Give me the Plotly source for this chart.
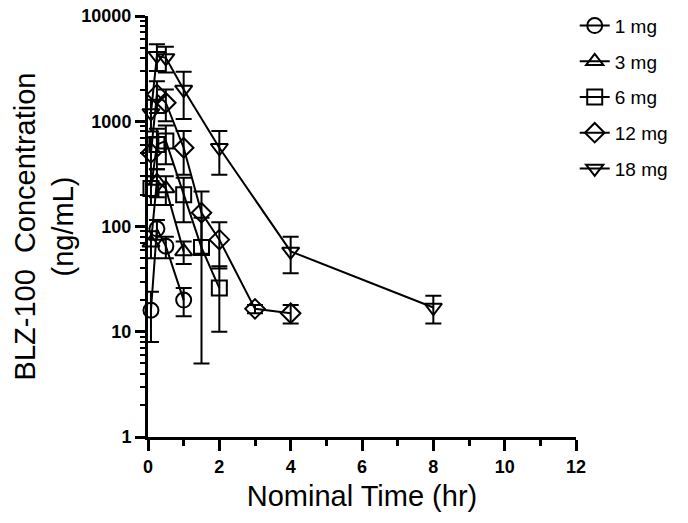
import plotly.graph_objects as go

# ---- data ----
dose_labels = ["1 mg", "3 mg", "6 mg", "12 mg", "18 mg"]

time_1mg = [0.083, 0.25, 0.5, 1]
conc_1mg = [16, 95, 65, 20]
err_1mg = [8, 20, 15, 6]

time_3mg = [0.083, 0.25, 0.5, 1]
conc_3mg = [70, 270, 230, 58]
err_3mg = [20, 80, 70, 14]

time_6mg = [0.083, 0.25, 0.5, 1, 1.5, 2]
conc_6mg = [230, 600, 650, 200, 63, 26]
err_6mg = [70, 250, 260, 90, 58, 16]

time_12mg = [0.083, 0.25, 0.5, 1, 1.5, 2, 3, 4]
conc_12mg = [500, 1800, 1500, 560, 135, 75, 16.5, 15]
err_12mg = [200, 600, 500, 250, 80, 35, 1.5, 3]

time_18mg = [0.083, 0.25, 0.5, 1, 2, 4, 8]
conc_18mg = [1200, 4200, 4000, 2000, 560, 58, 17]
err_18mg = [400, 1200, 1100, 950, 250, 22, 5]

x_tick_vals = [0, 2, 4, 6, 8, 10, 12]
y_tick_vals = [1, 10, 100, 1000, 10000]
y_tick_text = ["1", "10", "100", "1000", "10000"]

series = [
    (time_1mg, conc_1mg, err_1mg, "circle-open"),
    (time_3mg, conc_3mg, err_3mg, "triangle-up-open"),
    (time_6mg, conc_6mg, err_6mg, "square-open"),
    (time_12mg, conc_12mg, err_12mg, "diamond-open"),
    (time_18mg, conc_18mg, err_18mg, "triangle-down-open"),
]

fig = go.Figure()
for name, (t, c, e, sym) in zip(dose_labels, series):
    fig.add_trace(go.Scatter(
        x=t, y=c, name=name, legendgroup=name, mode="lines+markers",
        line=dict(color="black", width=2),
        marker=dict(symbol=sym, size=15, color="black", line=dict(width=2, color="black")),
        error_y=dict(type="data", array=e, visible=True, color="black", thickness=2, width=8),
        cliponaxis=False,
    ))

tick_font = dict(family="Arial", size=18, color="black", weight="bold")
title_font = dict(family="Arial", size=29, color="black")

fig.update_layout(
    width=688, height=523,
    margin=dict(l=148, r=112, t=16, b=86, autoexpand=False),
    paper_bgcolor="white", plot_bgcolor="white",
    showlegend=True,
    legend=dict(x=0.997, y=1.022, xanchor="left", yanchor="top",
                font=dict(family="Arial", size=19, color="black"),
                tracegroupgap=8, itemwidth=30, bgcolor="rgba(0,0,0,0)"),
    xaxis=dict(
        range=[0, 12], tickvals=x_tick_vals, showgrid=False, zeroline=False,
        automargin=False, ticklabeloverflow="allow",
        showline=True, linecolor="black", linewidth=3,
        ticks="outside", ticklen=11, tickwidth=3, tickcolor="black",
        tickfont=tick_font,
        minor=dict(ticks="outside", ticklen=6, tickwidth=3, tickcolor="black", dtick=1, showgrid=False),
        title=dict(text="Nominal Time (hr)", font=title_font, standoff=11),
    ),
    yaxis=dict(
        type="log", range=[0, 4], tickvals=y_tick_vals, ticktext=y_tick_text,
        showgrid=False, zeroline=False,
        automargin=False, ticklabeloverflow="allow",
        showline=True, linecolor="black", linewidth=3,
        ticks="outside", ticklen=10, tickwidth=3, tickcolor="black",
        tickfont=tick_font,
        minor=dict(ticks="outside", ticklen=5, tickwidth=2, tickcolor="black", dtick="D1", showgrid=False),
        title=dict(text="BLZ-100  Concentration<br>(ng/mL)", font=title_font, standoff=0),
    ),
)

fig.write_html("out.html", config={"displayModeBar": False},
               post_script="document.body.style.margin='0';")
